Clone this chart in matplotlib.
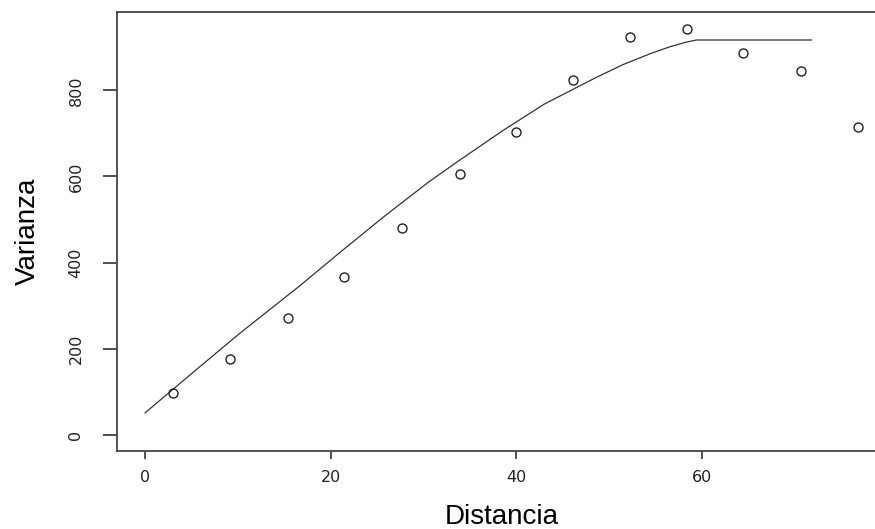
import numpy as np
import matplotlib.pyplot as plt

# empirical semivariogram (points)
distancia = [3.02, 9.14, 15.36, 21.4, 27.66, 33.9, 39.96, 46.1, 52.2, 58.4, 64.46, 70.7, 76.76]
varianza = [96, 177, 272, 366, 481, 605, 703, 825, 924, 943, 887, 846, 716]

# fitted model line
dist_modelo = [0, 5.0, 10.1, 16.6, 20.9, 25.8, 30.6, 33.9, 38.5, 43.0, 48.6, 51.5, 54.4, 56.5, 58.3, 59.4, 71.8]
var_modelo = [51, 142, 234, 345, 422, 508, 588, 638, 706, 768, 830, 860, 885, 901, 912, 917, 917]

xticks = [0, 20, 40, 60]
yticks = [0, 200, 400, 600, 800]

fig = plt.figure(figsize=(8.75, 5.29), dpi=100)
# right edge of the box lies just outside the picture
ax = fig.add_axes([0.1334, 0.1469, 0.8792, 0.8304])

ax.plot(dist_modelo, var_modelo, color='#333333', lw=0.9)
ax.plot(distancia, varianza, 'o', mfc='none', mec='#222222', ms=6.5, mew=1.0)

ax.set_xlim(-3.07, 79.83)
ax.set_ylim(-38.5, 982)

ax.set_xticks(xticks)
ax.set_yticks(yticks)
ax.tick_params(axis='x', length=5.8, width=1.2, color='#333333', pad=8,
               labelsize=11.5, labelcolor='#222222')
ax.tick_params(axis='y', length=10, width=1.2, color='#333333', pad=14,
               labelsize=11.5, labelcolor='#222222')
for lab in ax.get_yticklabels():
    lab.set_rotation(90)
    lab.set_va('center')

for side in ['left', 'bottom', 'top', 'right']:
    ax.spines[side].set_color('#444444')
    ax.spines[side].set_linewidth(1.3)

ax.set_xlabel('Distancia', fontsize=20, family='Liberation Sans', va='baseline')
ax.xaxis.set_label_coords(0.5, -0.165)
ax.set_ylabel('Varianza', fontsize=20, family='Liberation Sans', va='center')
ax.yaxis.set_label_coords(-0.116, 0.5)

fig.savefig('out.png', dpi=100)
